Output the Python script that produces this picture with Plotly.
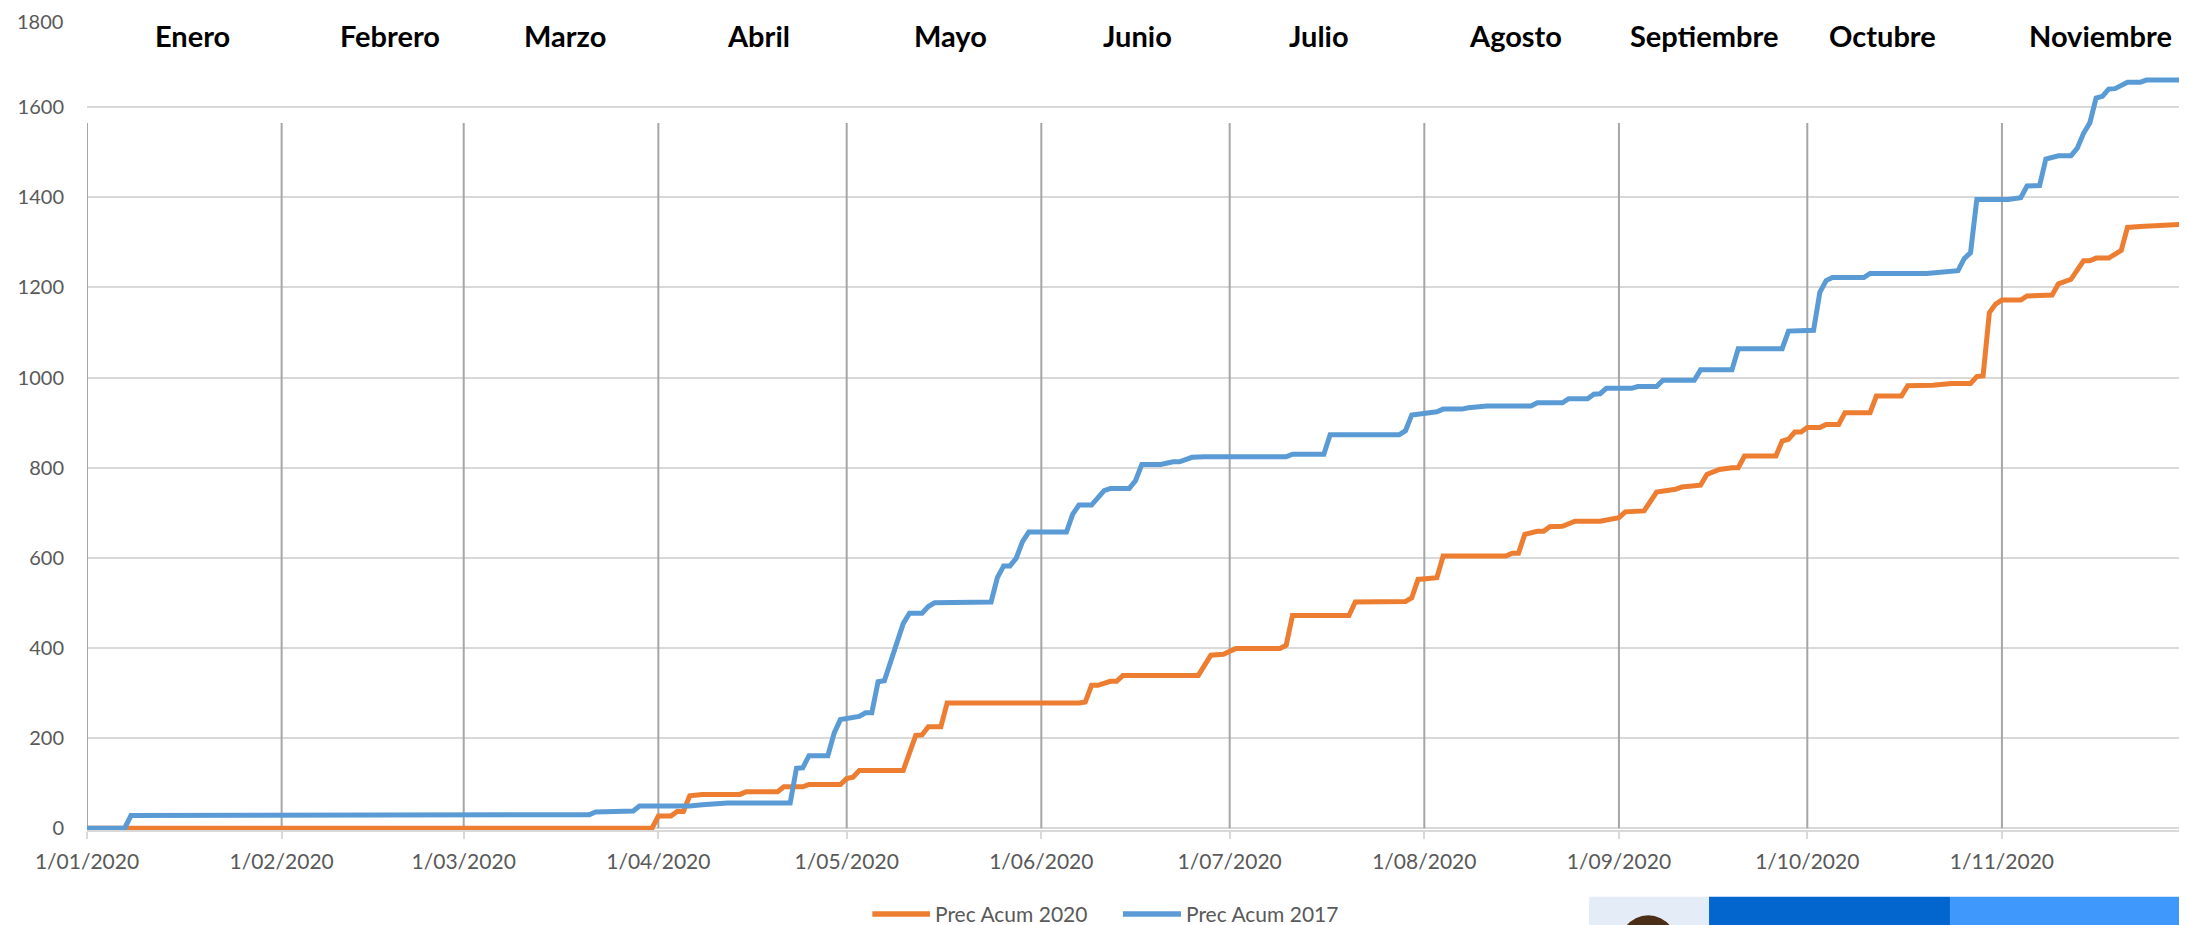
import pandas as pd
import plotly.graph_objects as go

# ---------------- data (day offsets from 1 Jan 2020, cumulative mm) ----------------
days_2020 = [0, 90, 91, 93, 94, 95, 96, 98, 104, 105, 110, 111, 114, 115, 120, 121, 122, 123,
             130, 131, 132, 133, 134, 136, 137, 158, 159, 160, 161, 163, 164, 165, 177, 179,
             181, 183, 190, 191, 192, 201, 202, 210, 211, 212, 215, 216, 226, 227, 228, 229,
             231, 232, 233, 235, 237, 241, 243, 244, 245, 248, 250, 251, 252, 253, 254, 256,
             257, 258, 260, 262, 263, 264, 269, 270, 271, 272, 273, 274, 276, 277, 279, 280,
             284, 285, 289, 290, 294, 297, 300, 301, 302, 303, 304, 305, 308, 309, 313, 314,
             316, 318, 319, 320, 322, 324, 325, 327, 328, 334]
prec_2020 = [0, 0, 27, 27, 37, 37, 72, 75, 75, 81, 81, 92, 92, 97, 97, 110, 113, 128,
             128, 170, 206, 207, 225, 225, 278, 278, 280, 317, 317, 326, 326, 339, 339, 384,
             386, 399, 399, 406, 472, 472, 502, 503, 511, 552, 556, 604, 604, 610, 610, 652,
             659, 659, 669, 670, 681, 681, 687, 689, 702, 704, 746, 748, 752, 752, 757, 758,
             761, 785, 796, 800, 800, 826, 826, 859, 863, 879, 879, 889, 889, 896, 896, 922,
             922, 959, 959, 982, 983, 987, 987, 1002, 1004, 1144, 1163, 1172, 1172, 1181, 1183, 1208,
             1218, 1259, 1259, 1265, 1265, 1282, 1333, 1335, 1336, 1340]

days_2017 = [0, 6, 7, 69, 70, 80, 81, 84, 87, 88, 96, 98, 100, 102, 112, 113, 114, 115, 118,
             119, 120, 123, 124, 125, 126, 127, 130, 131, 133, 134, 135, 144, 145, 146, 147,
             148, 149, 150, 156, 157, 158, 160, 162, 163, 166, 167, 168, 171, 173, 174, 176,
             178, 191, 192, 197, 198, 209, 210, 211, 213, 215, 216, 219, 220, 223, 230, 231,
             235, 236, 239, 240, 241, 242, 246, 247, 250, 251, 256, 257, 262, 263, 270, 271,
             275, 276, 277, 278, 283, 284, 293, 296, 298, 299, 300, 301, 306, 308, 309, 311,
             312, 314, 316, 317, 318, 319, 320, 321, 322, 323, 325, 327, 328, 334]
prec_2017 = [0, 0, 28, 28, 30, 30, 36, 38, 38, 49, 49, 52, 54, 56, 56, 133, 134, 161, 161,
             211, 241, 248, 256, 256, 325, 327, 454, 477, 477, 492, 500, 502, 556, 582, 582,
             599, 636, 657, 657, 697, 717, 717, 749, 754, 754, 771, 807, 807, 813, 813, 823,
             824, 824, 830, 830, 873, 873, 882, 917, 921, 924, 930, 930, 933, 937, 937, 944,
             944, 953, 953, 963, 964, 976, 976, 980, 980, 994, 994, 1017, 1017, 1064, 1064, 1103,
             1105, 1189, 1215, 1222, 1222, 1231, 1231, 1235, 1237, 1264, 1277, 1395, 1395, 1399, 1425, 1426,
             1485, 1492, 1492, 1509, 1542, 1565, 1620, 1624, 1640, 1641, 1655, 1655, 1660, 1660]

series_names = ["Prec Acum 2020", "Prec Acum 2017"]
series_colors = ["#ED7D31", "#5B9BD5"]

y_ticks = [0, 200, 400, 600, 800, 1000, 1200, 1400, 1600, 1800]
month_starts = ["2020-01-01", "2020-02-01", "2020-03-01", "2020-04-01", "2020-05-01", "2020-06-01",
                "2020-07-01", "2020-08-01", "2020-09-01", "2020-10-01", "2020-11-01"]
tick_labels = ["1/01/2020", "1/02/2020", "1/03/2020", "1/04/2020", "1/05/2020", "1/06/2020",
               "1/07/2020", "1/08/2020", "1/09/2020", "1/10/2020", "1/11/2020"]
month_names = ["Enero", "Febrero", "Marzo", "Abril", "Mayo", "Junio", "Julio", "Agosto",
               "Septiembre", "Octubre", "Noviembre"]
month_label_days = [16.8, 48.2, 76.2, 106.9, 137.6, 167.3, 196.2, 227.6, 257.6, 285.9, 320.7]

base = pd.Timestamp("2020-01-01")
def to_dates(days):
    return [(base + pd.Timedelta(days=d)).strftime("%Y-%m-%d %H:%M") for d in days]

fig = go.Figure()
fig.add_trace(go.Scatter(x=to_dates(days_2020), y=prec_2020, mode="lines", name=series_names[0],
                         line=dict(color=series_colors[0], width=5)))
fig.add_trace(go.Scatter(x=to_dates(days_2017), y=prec_2017, mode="lines", name=series_names[1],
                         line=dict(color=series_colors[1], width=5)))

# month separator lines
for m in month_starts:
    fig.add_shape(type="line", xref="x", yref="y", x0=m, x1=m, y0=0, y1=1565,
                  line=dict(color="#A6A6A6", width=2), layer="between")

# month names
for name, d in zip(month_names, month_label_days):
    fig.add_annotation(x=to_dates([d])[0], y=1760, xref="x", yref="y", text="<b>" + name + "</b>",
                       showarrow=False, font=dict(family="Lato", size=29, color="black"),
                       xanchor="center", yanchor="middle")

# top y tick label drawn as annotation so that it stays inside the page
fig.add_annotation(x=0, y=y_ticks[-1], xref="paper", yref="y", text=str(y_ticks[-1]),
                   showarrow=False, xanchor="right", yanchor="middle", xshift=-22, yshift=-4,
                   font=dict(family="Lato", size=20, color="#595959"))

# legend (drawn manually to reproduce the long line keys)
legend_y = -0.1033
legend_keys = [(0.3745, 0.4020), (0.4940, 0.5217)]
for (x0, x1), name, col in zip(legend_keys, series_names, series_colors):
    fig.add_shape(type="line", xref="paper", yref="paper", x0=x0, x1=x1, y0=legend_y, y1=legend_y,
                  line=dict(color=col, width=5.5), layer="above")
    fig.add_annotation(x=x1 + 0.0015, y=legend_y, xref="paper", yref="paper", text=name,
                       showarrow=False, xanchor="left", yanchor="middle",
                       font=dict(family="Lato", size=21, color="#595959"))

# partial banner in bottom-right corner
banner = [(0.7163, 0.7735, "#E4ECF8"), (0.7735, 0.8884, "#0366CF"), (0.8884, 1.02, "#3F98FC")]
for x0, x1, col in banner:
    fig.add_shape(type="rect", xref="paper", yref="paper", x0=x0, x1=x1, y0=-0.15, y1=-0.082,
                  fillcolor=col, line=dict(width=0), layer="above")
fig.add_shape(type="circle", xref="paper", yref="paper", x0=0.729, x1=0.760, y0=-0.2, y1=-0.105,
              fillcolor="#4A2E17", line=dict(width=0), layer="above")

end_date = "2020-11-30"
# the page body adds an 8 px offset, so margins are shifted to keep the plot area in place
fig.update_layout(
    width=2187, height=925,
    margin=dict(l=79, r=11, t=9, b=103, autoexpand=False),
    paper_bgcolor="white", plot_bgcolor="white",
    font=dict(family="Lato", color="#595959", size=20),
    showlegend=False,
    xaxis=dict(type="date", range=["2020-01-01", end_date], automargin=False,
               tickvals=month_starts + [end_date], ticktext=tick_labels + [""],
               showgrid=False, showline=True, linecolor="#D9D9D9", linewidth=1.5,
               ticks="outside", ticklen=7, tickcolor="#D9D9D9", tickwidth=1.5,
               ticklabelstandoff=5, ticklabeloverflow="allow",
               tickfont=dict(size=21, color="#595959"), zeroline=False),
    yaxis=dict(range=[-4, 1800], tickvals=y_ticks, ticktext=[str(v) for v in y_ticks[:-1]] + [""],
               showgrid=True, automargin=False, ticklabeloverflow="allow",
               gridcolor="#D9D9D9", gridwidth=1.5, zeroline=False, showline=False,
               tickfont=dict(size=20, color="#595959"), ticklabelstandoff=22),
)

fig.write_html("out.html")
